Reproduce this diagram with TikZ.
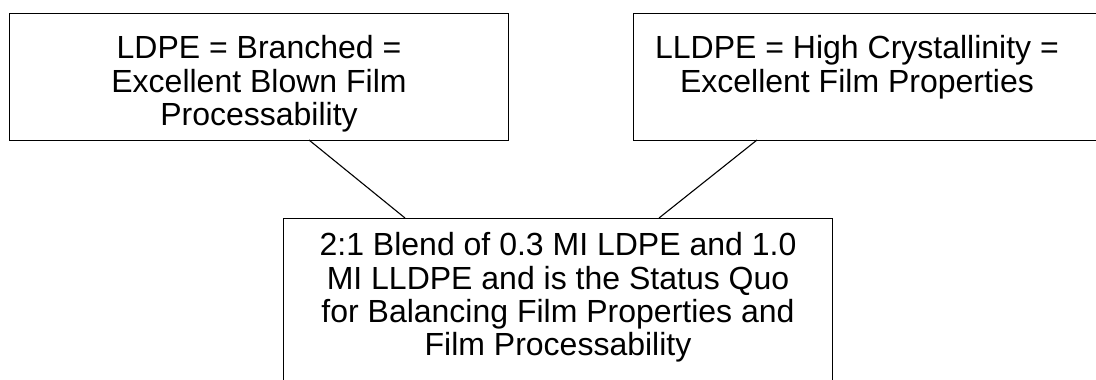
\documentclass[tikz,border=0pt]{standalone}
\usepackage{fontspec}
\setmainfont{Liberation Sans}
\begin{document}
\begin{tikzpicture}[x=1pt,y=1pt,
  box/.style={draw=black, line width=1.2pt, inner sep=0pt, anchor=north west},
  txt/.style={align=center, inner sep=0pt, anchor=north, font=\fontsize{32}{33}\selectfont},
  link/.style={draw=black, line width=1.1pt}]
\useasboundingbox (0,0) rectangle (1096,-380);
% boxes
\node[box, minimum width=499pt, minimum height=127pt] (lbox) at (9,-13) {};
\node[box, minimum width=480pt, minimum height=127pt] (rbox) at (633,-13) {};
\node[box, minimum width=549pt, minimum height=200pt] (bbox) at (283,-218) {};
% texts
\node[txt] (ltxt) at (259,-35) {\strut LDPE = Branched =\\Excellent Blown Film\\Processability};
\node[txt] (rtxt) at (857,-35) {\strut LLDPE = High Crystallinity =\\Excellent Film Properties};
\node[txt] (btxt) at (558,-232) {\strut 2:1 Blend of 0.3 MI LDPE and 1.0\\MI LLDPE and is the Status Quo\\for Balancing Film Properties and\\Film Processability};
% connector ends
\coordinate (l1) at (309,-140);
\coordinate (b1) at (405,-218);
\coordinate (r1) at (757,-140);
\coordinate (b2) at (659,-218);
\draw[link] (l1) -- (b1);
\draw[link] (r1) -- (b2);
\end{tikzpicture}
\end{document}
